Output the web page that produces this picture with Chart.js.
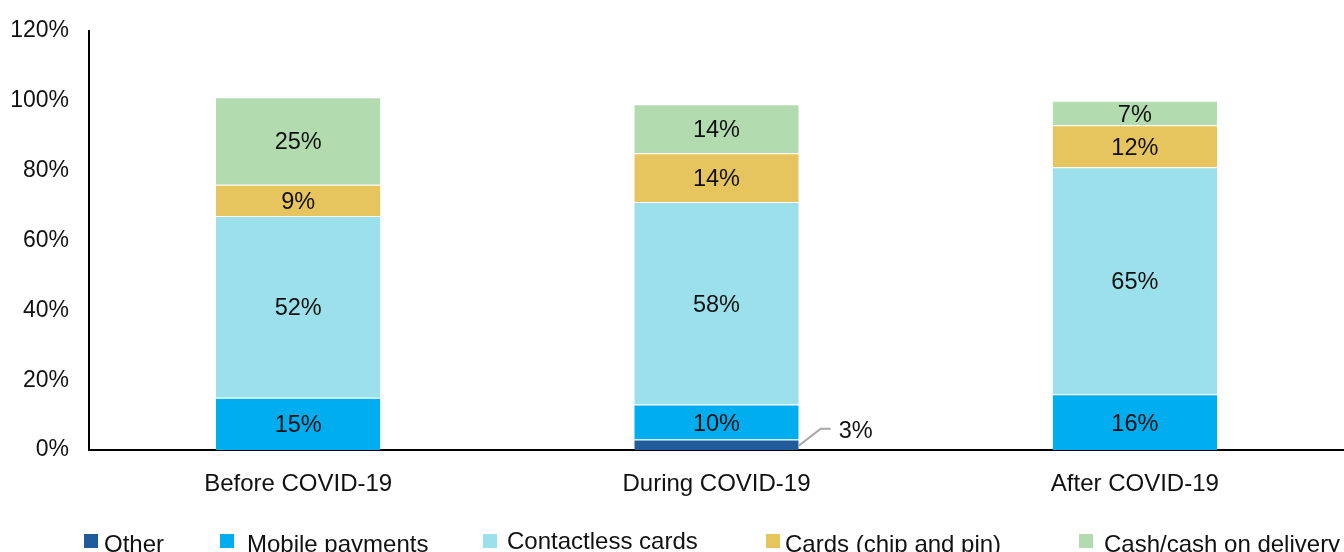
<!DOCTYPE html>
<html>
<head>
<meta charset="utf-8">
<script src="https://cdn.jsdelivr.net/npm/chart.js@4/dist/chart.umd.min.js"></script>
<style>
  html, body { margin: 0; padding: 0; background: #fff; }
  #wrap { width: 1344px; height: 552px; position: relative; }
</style>
</head>
<body>
<div id="wrap"><canvas id="chart"></canvas></div>
<script>
const categories = ["Before COVID-19", "During COVID-19", "After COVID-19"];
const seriesNames = ["Other", "Mobile payments", "Contactless cards", "Cards (chip and pin)", "Cash/cash on delivery"];
const seriesColors = ["#1f5c99", "#00aeef", "#9be0ea", "#e6c45e", "#b2dcb0"];
const other = [0, 3, 0];
const mobile = [15, 10, 16];
const contactless = [52, 58, 65];
const chipPin = [9, 14, 12];
const cash = [25, 14, 7];
const yTicks = [0, 20, 40, 60, 80, 100, 120];

const FONT = '"Liberation Sans", Arial, Helvetica, sans-serif';
const values = [other, mobile, contactless, chipPin, cash];

// percentage labels inside each segment, small ones get a leader line
const segmentLabels = {
  id: "segmentLabels",
  afterDatasetsDraw(chart) {
    const ctx = chart.ctx;
    ctx.save();
    ctx.font = "23.5px " + FONT;
    ctx.fillStyle = "#111";
    chart.data.datasets.forEach((ds, di) => {
      const meta = chart.getDatasetMeta(di);
      meta.data.forEach((bar, i) => {
        const v = ds.data[i];
        if (!v) return;
        const h = Math.abs(bar.base - bar.y);
        const label = v + "%";
        if (h > 20) {
          ctx.textAlign = "center";
          ctx.textBaseline = "middle";
          ctx.fillText(label, bar.x, (bar.y + bar.base) / 2 + 2);
        } else {
          const x0 = bar.x + bar.width / 2;
          const y0 = (bar.y + bar.base) / 2 + 1;
          ctx.strokeStyle = "#a6a6a6";
          ctx.lineWidth = 2;
          ctx.beginPath();
          ctx.moveTo(x0, y0);
          ctx.lineTo(x0 + 22, y0 - 17);
          ctx.lineTo(x0 + 32, y0 - 17);
          ctx.stroke();
          ctx.textAlign = "left";
          ctx.textBaseline = "middle";
          ctx.fillText(label, x0 + 40, y0 - 14);
        }
      });
    });
    ctx.restore();
  }
};

// legend row along the bottom edge
const legendX = [84, 220, 483, 766, 1079];
const legendGap = [20, 27, 24, 19, 25];
const legendShift = [0, 0, -3, 0, 0];
const bottomLegend = {
  id: "bottomLegend",
  afterDraw(chart) {
    const ctx = chart.ctx;
    ctx.save();
    ctx.font = "24px " + FONT;
    ctx.textAlign = "left";
    ctx.textBaseline = "alphabetic";
    chart.data.datasets.forEach((ds, i) => {
      ctx.fillStyle = ds.backgroundColor;
      ctx.fillRect(legendX[i], 534, 14, 14);
      ctx.fillStyle = "#111";
      ctx.fillText(ds.label, legendX[i] + legendGap[i], 552 + legendShift[i]);
    });
    ctx.restore();
  }
};

new Chart(document.getElementById("chart"), {
  type: "bar",
  data: {
    labels: categories,
    datasets: seriesNames.map((name, i) => ({
      label: name,
      data: values[i],
      backgroundColor: seriesColors[i],
      borderColor: "rgba(255,255,255,0.6)",
      borderWidth: { top: 1, bottom: 0, left: 0, right: 0 },
      borderSkipped: false,
      barPercentage: 0.393,
      categoryPercentage: 1
    }))
  },
  options: {
    responsive: true,
    maintainAspectRatio: false,
    animation: false,
    layout: { padding: { top: 31, right: 0, left: 0, bottom: 0 } },
    plugins: {
      legend: { display: false },
      tooltip: { enabled: false }
    },
    scales: {
      x: {
        stacked: true,
        grid: { display: false },
        border: { display: true, color: "#000", width: 2 },
        ticks: { color: "#111", font: { family: FONT, size: 24 }, padding: 12 },
        afterFit(scale) { scale.height = 102; }
      },
      y: {
        stacked: true,
        min: 0,
        max: 120,
        grid: { display: false },
        border: { display: true, color: "#000", width: 2 },
        afterBuildTicks(scale) { scale.ticks = yTicks.map(v => ({ value: v })); },
        ticks: {
          color: "#111",
          font: { family: FONT, size: 23 },
          padding: 12,
          callback: v => v + "%"
        },
        afterFit(scale) { scale.width = 89; }
      }
    }
  },
  plugins: [segmentLabels, bottomLegend]
});
</script>
</body>
</html>
